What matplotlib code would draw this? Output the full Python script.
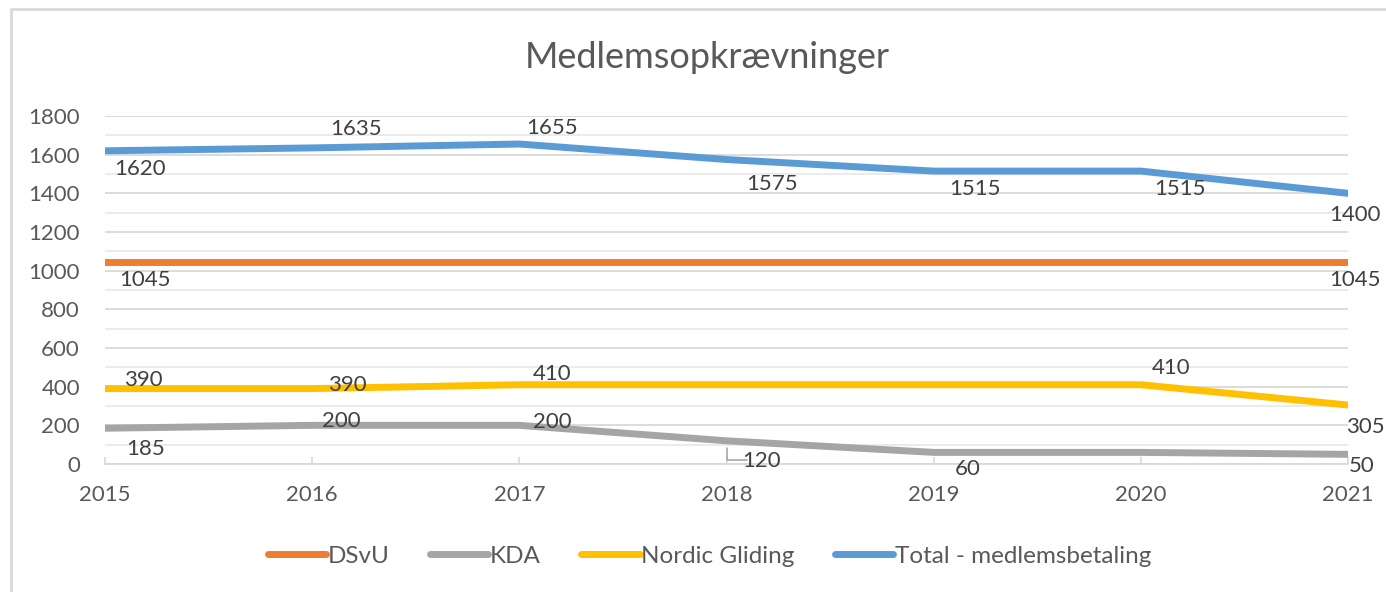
import matplotlib
import matplotlib.pyplot as plt
from matplotlib.lines import Line2D
from matplotlib.ticker import MultipleLocator

matplotlib.use("Agg")

years = [2015, 2016, 2017, 2018, 2019, 2020, 2021]
dsvu = [1045, 1045, 1045, 1045, 1045, 1045, 1045]
kda = [185, 200, 200, 120, 60, 60, 50]
nordic = [390, 390, 410, 410, 410, 410, 305]
total = [1620, 1635, 1655, 1575, 1515, 1515, 1400]

series_names = ["DSvU", "KDA", "Nordic Gliding", "Total - medlemsbetaling"]
title = "Medlemsopkrævninger"

colors = ["#ED7D31", "#A5A5A5", "#FFC000", "#5B9BD5"]

# label offsets in pixels (dx right, dy down); None = no label shown
label_offsets = [
    [(40, 18), None, None, None, None, None, (7, 18)],
    [(41, 21), (29, -4), (33, -3), (35, 20), (34, 17), None, (14, 12)],
    [(38, -9), (35, -4), (33, -11), None, None, (30, -17), (17, 22)],
    [(35, 18), (44, -19), (33, -16), (46, 24), (41, 18), (39, 18), (7, 22)],
]

plt.rcParams["font.family"] = ["Lato", "DejaVu Sans"]

fig = plt.figure(figsize=(13.86, 5.92), dpi=100)
ax = fig.add_axes([105 / 1386, 1 - 464 / 592, (1348 - 105) / 1386, (464 - 116) / 592])

# chart border (top and left edges only visible)
fig.add_artist(Line2D([11 / 1386, 11 / 1386, 1.0], [0.0, 1 - 9 / 592, 1 - 9 / 592],
                      transform=fig.transFigure, color="#D9D9D9", lw=2))

all_series = [dsvu, kda, nordic, total]
for name, vals, col, offs in zip(series_names, all_series, colors, label_offsets):
    ax.plot(years, vals, color=col, lw=5, solid_capstyle="round", solid_joinstyle="round",
            label=name, zorder=3)
    for x, v, off in zip(years, vals, offs):
        if off is None:
            continue
        ax.annotate(str(v), (x, v), xytext=(off[0], -off[1]), textcoords="offset pixels",
                    ha="center", va="center", fontsize=16, color="#404040", zorder=4)

# leader line for the KDA 2018 label
ax.annotate("", (years[3], kda[3]), xytext=(35 - 15, -19), textcoords="offset pixels",
            arrowprops=dict(arrowstyle="-", color="#A5A5A5", lw=1.2, shrinkA=0, shrinkB=5,
                            connectionstyle="angle,angleA=180,angleB=90,rad=0"))

ax.set_xlim(2015, 2021)
ax.set_ylim(0, 1800)
ax.set_xticks(years)
ax.set_yticks(range(0, 1801, 200))
ax.yaxis.set_minor_locator(MultipleLocator(100))
ax.grid(axis="y", which="major", color="#D9D9D9", lw=1.3, zorder=0)
ax.grid(axis="y", which="minor", color="#E6E6E6", lw=1.1, zorder=0)
ax.set_axisbelow(True)

for s in ["top", "right", "left"]:
    ax.spines[s].set_visible(False)
ax.spines["bottom"].set_color("#D9D9D9")
ax.spines["bottom"].set_linewidth(1.3)

ax.tick_params(axis="x", direction="in", length=5, width=1.2, color="#D9D9D9",
               pad=15, labelsize=16, labelcolor="#595959")
ax.tick_params(axis="y", which="both", length=0, pad=18, labelsize=16, labelcolor="#595959")

fig.text(0.51, 1 - 58 / 592, title, ha="center", va="center", fontsize=26, color="#595959")

fig.legend(loc="center", bbox_to_anchor=(0.512, 1 - 556 / 592), ncol=4, frameon=False,
           fontsize=17.5, labelcolor="#595959", handlelength=2.4, handletextpad=0.08,
           columnspacing=1.65)

fig.savefig("out.png", dpi=100)
plt.close(fig)
